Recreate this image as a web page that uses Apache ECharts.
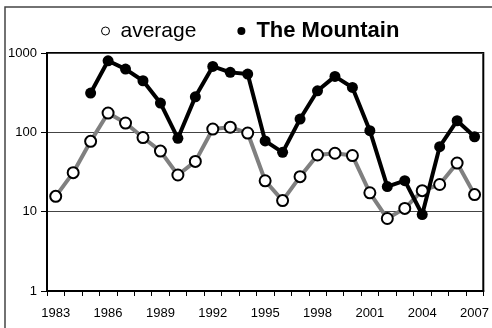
<!DOCTYPE html>
<html>
<head>
<meta charset="utf-8">
<script src="https://cdn.jsdelivr.net/npm/echarts@6/dist/echarts.min.js"></script>
<style>
  html, body { margin: 0; padding: 0; background: #fff; }
  #chart { width: 492px; height: 328px; }
</style>
</head>
<body>
<div id="chart"></div>
<script>
// Yearly counts, 1983-2007
const years = ['1983','1984','1985','1986','1987','1988','1989','1990','1991','1992','1993','1994','1995',
               '1996','1997','1998','1999','2000','2001','2002','2003','2004','2005','2006','2007'];
const averageValues = [15.6, 31, 77, 175, 131, 86, 58, 29, 43, 110, 116, 98, 24.5,
                       13.8, 27.6, 51.8, 54.5, 51, 17.3, 8.2, 11, 18.4, 22, 41, 16.4];
const mountainValues = [null, null, 313, 798, 627, 447, 234, 84, 280, 678, 570, 543, 78,
                        56, 147, 334, 507, 368, 105, 20.7, 24.6, 9.2, 66, 140, 88];
const yTicks = [1, 10, 100, 1000];

const chart = echarts.init(document.getElementById('chart'), null, { renderer: 'canvas' });
const font = '"Liberation Sans", Arial, sans-serif';

chart.setOption({
  animation: false,
  backgroundColor: '#fff',
  textStyle: { fontFamily: font },
  graphic: [{
    type: 'rect',
    silent: true,
    shape: { x: 5, y: 7, width: 520, height: 360 },
    style: { fill: 'none', stroke: '#444', lineWidth: 1.5 }
  }],
  legend: {
    left: 101,
    top: 20,
    padding: 0,
    icon: 'circle',
    itemWidth: 8,
    itemHeight: 8,
    itemGap: 41,
    textStyle: { fontFamily: font, fontSize: 21, color: '#000', padding: [0, 0, 0, 6] },
    data: [
      { name: 'average', itemStyle: { color: '#fff', borderColor: '#000', borderWidth: 1 },
        textStyle: { fontWeight: 'normal' } },
      { name: 'The Mountain', itemStyle: { color: '#000', borderWidth: 0 },
        textStyle: { fontWeight: 'bold', fontSize: 22 } }
    ]
  },
  grid: {
    left: 47, right: 7, top: 53, bottom: 37,
    show: true, borderColor: '#000', borderWidth: 2, backgroundColor: 'transparent'
  },
  xAxis: {
    type: 'category',
    data: years,
    boundaryGap: true,
    axisLine: { lineStyle: { color: '#000', width: 2 } },
    axisTick: { show: true, interval: 0, length: 5, lineStyle: { color: '#000', width: 1 } },
    axisLabel: { interval: 2, margin: 16, fontSize: 13, color: '#000', fontFamily: font },
    splitLine: { show: false }
  },
  yAxis: {
    type: 'log',
    logBase: 10,
    min: yTicks[0],
    max: yTicks[yTicks.length - 1],
    axisLine: { show: true, lineStyle: { color: '#000', width: 2 } },
    axisTick: { show: true, length: 6, lineStyle: { color: '#000', width: 1 } },
    axisLabel: { margin: 10, fontSize: 13, color: '#000', fontFamily: font,
                 formatter: v => String(Math.round(v)) },
    splitLine: { show: true, lineStyle: { color: '#444', width: 1 } }
  },
  series: [
    {
      name: 'average',
      type: 'line',
      data: averageValues,
      symbol: 'circle',
      symbolSize: 11,
      showAllSymbol: true,
      lineStyle: { color: '#808080', width: 4 },
      itemStyle: { color: '#fff', borderColor: '#000', borderWidth: 2 },
      emphasis: { disabled: true }
    },
    {
      name: 'The Mountain',
      type: 'line',
      data: mountainValues,
      symbol: 'circle',
      symbolSize: 11,
      showAllSymbol: true,
      connectNulls: false,
      lineStyle: { color: '#000', width: 4 },
      itemStyle: { color: '#000' },
      emphasis: { disabled: true }
    }
  ]
});
</script>
</body>
</html>
